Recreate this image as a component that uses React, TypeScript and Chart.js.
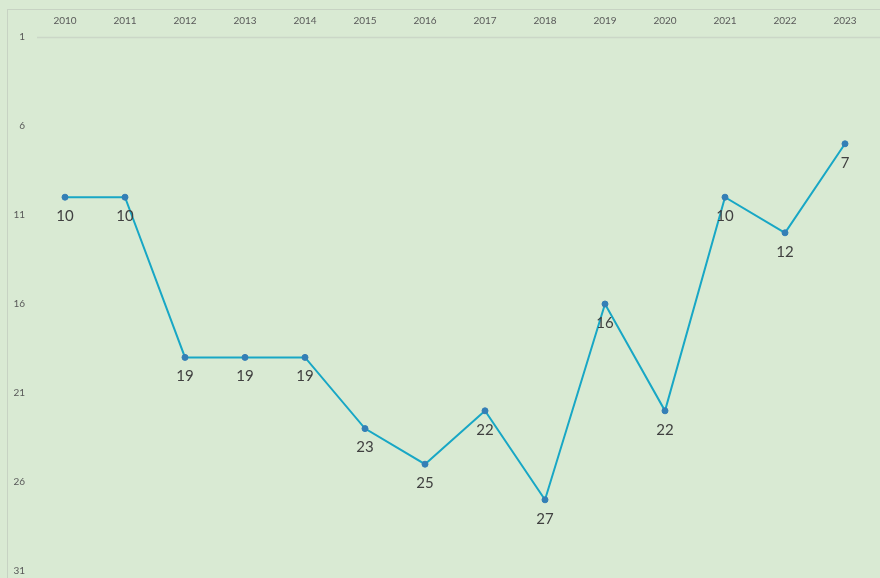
import React, { useEffect, useRef } from "react";
import { Chart, registerables } from "chart.js";

Chart.register(...registerables);

const years = ["2010","2011","2012","2013","2014","2015","2016","2017","2018","2019","2020","2021","2022","2023"];
const ranks = [10, 10, 19, 19, 19, 23, 25, 22, 27, 16, 22, 10, 12, 7];
const yTicks = [1, 6, 11, 16, 21, 26, 31];

const BG = "#d9ead3";

export default function App() {
  const ref = useRef<HTMLCanvasElement>(null);
  useEffect(() => {
    document.body.style.margin = "0";
    document.body.style.background = BG;
    const frame = {
      id: "frame",
      beforeDraw(chart: any) {
        const c = chart.ctx;
        c.save();
        c.fillStyle = BG;
        c.fillRect(0, 0, chart.width, chart.height);
        c.strokeStyle = "#c7d3c3";
        c.lineWidth = 1;
        c.strokeRect(7.5, 9.5, chart.width, chart.height);
        c.strokeStyle = "#cbd7c7";
        c.lineWidth = 1.5;
        c.beginPath();
        c.moveTo(37, chart.chartArea.top + 0.5);
        c.lineTo(chart.width, chart.chartArea.top + 0.5);
        c.stroke();
        c.restore();
      },
      afterDatasetsDraw(chart: any) {
        const c = chart.ctx;
        const meta = chart.getDatasetMeta(0);
        c.save();
        c.font = "15px Lato, 'Liberation Sans', sans-serif";
        c.fillStyle = "#404040";
        c.textAlign = "center";
        c.textBaseline = "middle";
        meta.data.forEach((pt: any, i: number) => {
          c.fillText(String(ranks[i]), pt.x, pt.y + 19);
        });
        c.restore();
      },
    };
    const chart = new Chart(ref.current!, {
      type: "line",
      data: {
        labels: years,
        datasets: [
          {
            data: ranks,
            borderColor: "#18a7c5",
            borderWidth: 2,
            pointRadius: 3,
            pointBackgroundColor: "#347fb6",
            pointBorderColor: "#347fb6",
            pointBorderWidth: 1,
            tension: 0,
          },
        ],
      },
      options: {
        animation: false,
        responsive: false,
        layout: { padding: { top: 0, left: 0, right: 5, bottom: 7 } },
        plugins: { legend: { display: false }, tooltip: { enabled: false } },
        scales: {
          x: {
            position: "top",
            offset: true,
            grid: { display: false, drawTicks: false },
            border: { display: false },
            ticks: {
              color: "#595959",
              font: { size: 10, family: "Lato, 'Liberation Sans', sans-serif" },
              padding: 10,
              maxRotation: 0,
            },
            afterFit(s: any) { s.height = 37; s.paddingLeft = 0; s.paddingRight = 0; },
          },
          y: {
            reverse: true,
            min: 1,
            max: 31,
            grid: { display: false, drawTicks: false },
            border: { display: false },
            afterBuildTicks(s: any) { s.ticks = yTicks.map((v) => ({ value: v })); },
            ticks: {
              color: "#595959",
              font: { size: 10, family: "Lato, 'Liberation Sans', sans-serif" },
              padding: 10,
            },
            afterFit(s: any) { s.width = 35; s.paddingTop = 0; s.paddingBottom = 0; },
          },
        },
      },
      plugins: [frame],
    });
    return () => chart.destroy();
  }, []);
  return <canvas ref={ref} width={880} height={578} style={{ display: "block" }} />;
}
